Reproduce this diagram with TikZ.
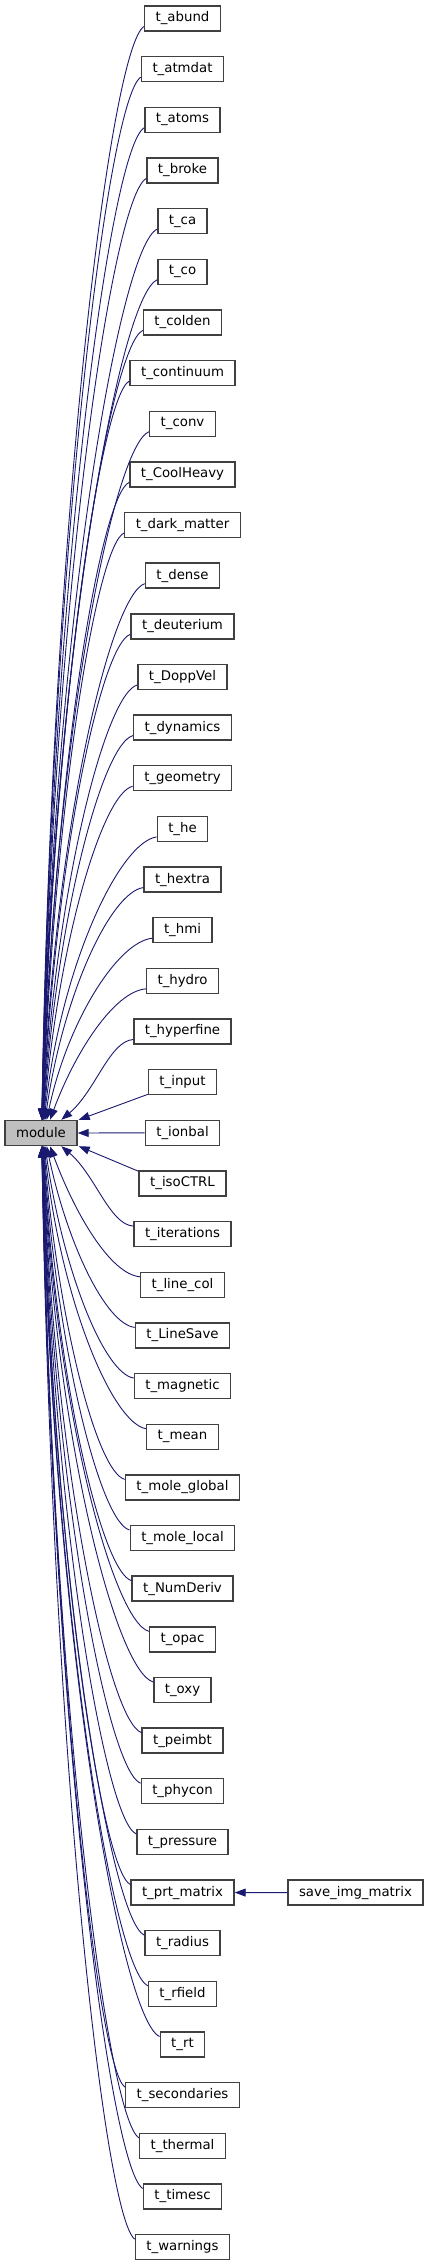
\documentclass[tikz,border=0pt]{standalone}
\usepackage{fontspec}
\setmainfont{DejaVu Sans}
\usetikzlibrary{arrows.meta,calc}
\definecolor{edgeblue}{HTML}{191970}
\definecolor{modfill}{HTML}{BFBFBF}
\tikzset{
  box/.style={draw=black!75, line width=1.4pt, minimum height=25pt, inner xsep=11pt, inner ysep=0pt,
    font=\fontsize{13.3}{16}\selectfont, fill=white},
  edge/.style={draw=edgeblue, line width=0.9pt, -{Triangle[length=11pt,width=8pt]}},
}
\begin{document}
\begin{tikzpicture}[x=1pt,y=-1pt]
\useasboundingbox (0,0) rectangle (429,2267);
\node[box, fill=modfill, minimum width=72pt] (m) at (41,1133) {module};
\foreach \t [count=\i from 0] in {abund,atmdat,atoms,broke,ca,co,colden,continuum,conv,CoolHeavy,dark\_matter,dense,deuterium,DoppVel,dynamics,geometry,he,hextra,hmi,hydro,hyperfine,input,ionbal,isoCTRL,iterations,line\_col,LineSave,magnetic,mean,mole\_global,mole\_local,NumDeriv,opac,oxy,peimbt,phycon,pressure,prt\_matrix,radius,rfield,rt,secondaries,thermal,timesc,warnings}{
  \pgfmathsetmacro\myyc{18.5+\i*50.65}
  \node[box] (n\i) at (182.5,\myyc) {t\_\t};
}
\node[box] (s) at (355.5,1892.6) {save\_img\_matrix};
% straight edges
\draw[edge] (n22.west) -- (m.east);
\draw[edge] ($(n21.south west)+(0,-1)$) -- ($(m.north east)+(1,0)$);
\draw[edge] ($(n23.north west)+(0,1)$) -- ($(m.south east)+(1,0)$);
\draw[edge] (s.west) -- (n37.east);
% curved edges above
\foreach \i in {0,...,20}{
  \pgfmathsetmacro\myk{22-\i}
  \pgfmathsetmacro\myyc{18.5+\i*50.65}
  \pgfmathsetmacro\mydy{1120.5-(\myyc+8)}
  \pgfmathsetmacro\myxo{37+20/((\myk-1)^1.2)}
  \pgfmathsetmacro\myth{50/((\myk-1)^1.3)}
  \pgfmathsetmacro\myL{0.55*\mydy}
  \draw[edge] let \p1=(n\i.west), \p2=(m.north west) in
    (\x1,\y1-8pt) .. controls ({\x1-0.33*(\x1-\x2-\myxo pt)},{\y1-8pt-0.02*\mydy pt})
      and ({\x2+\myxo pt+\myL*sin(\myth)*1pt},{\y2+\myL*cos(\myth)*1pt}) .. (\x2+\myxo pt,\y2);
}
% curved edges below
\foreach \i in {24,...,44}{
  \pgfmathsetmacro\myk{\i-22}
  \pgfmathsetmacro\myyc{18.5+\i*50.65}
  \pgfmathsetmacro\mydy{(\myyc-8)-1145.5}
  \pgfmathsetmacro\myxo{37+20/((\myk-1)^1.2)}
  \pgfmathsetmacro\myth{50/((\myk-1)^1.3)}
  \pgfmathsetmacro\myL{0.55*\mydy}
  \draw[edge] let \p1=(n\i.west), \p2=(m.south west) in
    (\x1,\y1+8pt) .. controls ({\x1-0.33*(\x1-\x2-\myxo pt)},{\y1+8pt+0.02*\mydy pt})
      and ({\x2+\myxo pt+\myL*sin(\myth)*1pt},{\y2-\myL*cos(\myth)*1pt}) .. (\x2+\myxo pt,\y2);
}
\end{tikzpicture}
\end{document}
